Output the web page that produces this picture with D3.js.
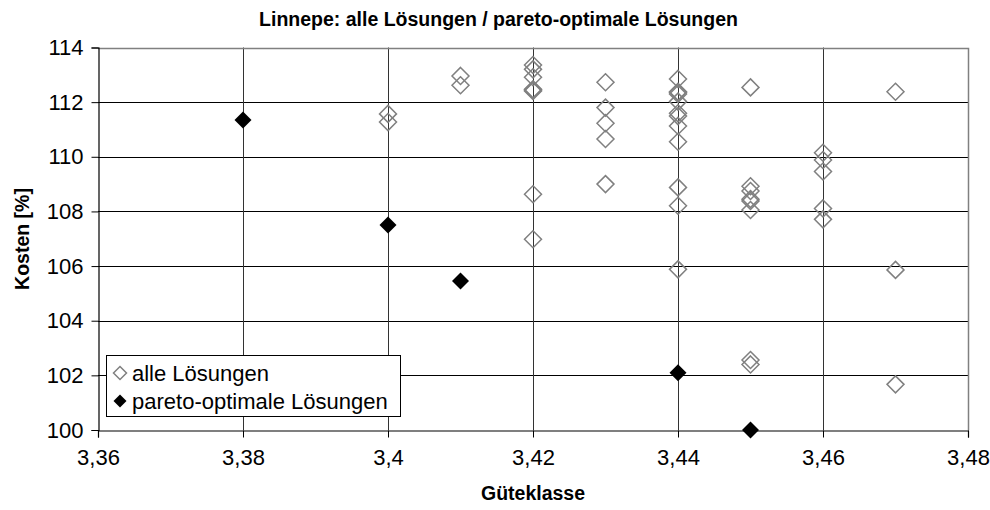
<!DOCTYPE html>
<html><head><meta charset="utf-8">
<script src="https://cdn.jsdelivr.net/npm/d3@7"></script>
<style>body{margin:0;background:#fff}text{font-family:Arial,"Liberation Sans",sans-serif}</style>
</head><body>
<svg id="c" width="990" height="510"></svg>
<script>
const titleText = "Linnepe: alle Lösungen / pareto-optimale Lösungen";
const xTitle = "Güteklasse";
const yTitle = "Kosten [%]";
const seriesNames = ["alle Lösungen", "pareto-optimale Lösungen"];
const xTicks = [3.36, 3.38, 3.40, 3.42, 3.44, 3.46, 3.48];
const yTicks = [100, 102, 104, 106, 108, 110, 112, 114];

const alleX = [3.40,3.40, 3.41,3.41,
  3.42,3.42,3.42,3.42,3.42,3.42,3.42,3.42,
  3.43,3.43,3.43,3.43,3.43,
  3.44,3.44,3.44,3.44,3.44,3.44,3.44,3.44,3.44,3.44,3.44,3.44,
  3.45,3.45,3.45,3.45,3.45,3.45,3.45,3.45,
  3.46,3.46,3.46,3.46,3.46,
  3.47,3.47,3.47];
const alleY = [111.57,111.27, 112.96,112.62,
  113.36,113.2,112.91,112.47,112.41,112.44,108.63,106.98,
  112.73,111.8,111.23,110.65,109.0,
  112.85,112.38,112.35,112.3,112.02,111.59,111.49,111.13,110.55,108.88,108.21,105.88,
  112.54,108.92,108.75,108.45,108.38,108.05,102.56,102.4,
  110.15,109.88,109.46,108.11,107.71,
  112.38,105.86,101.67];
const paretoX = [3.38, 3.40, 3.41, 3.44, 3.45];
const paretoY = [111.35, 107.5, 105.45, 102.1, 100.0];

const svg = d3.select("#c");
const L = 98, R = 968, T = 47.5, B = 430;
const x = d3.scaleLinear().domain([3.36, 3.48]).range([L, R]);
const y = d3.scaleLinear().domain([100, 114]).range([B, T]);
const fmt = d => d3.format(".2f")(d).replace(/0$/, "").replace(".", ",");

// gridlines
svg.append("g").selectAll("line").data(yTicks.slice(1)).join("line")
  .attr("x1", L).attr("x2", R).attr("y1", d => Math.round(y(d)) + 0.5).attr("y2", d => Math.round(y(d)) + 0.5)
  .attr("stroke", "#000").attr("stroke-width", 1);
svg.append("g").selectAll("line").data(xTicks.slice(1, -1)).join("line")
  .attr("y1", T).attr("y2", B).attr("x1", d => Math.round(x(d)) + 0.5).attr("x2", d => Math.round(x(d)) + 0.5)
  .attr("stroke", "#333").attr("stroke-width", 1);
// top/right border
svg.append("path").attr("d", `M${L},${Math.round(T)+0.5}H${R+0.5}V${B}`).attr("fill", "none").attr("stroke", "#808080").attr("stroke-width", 1.5);

// axes
const xAxis = d3.axisBottom(x).tickValues(xTicks).tickFormat(fmt).tickSize(7).tickPadding(12);
const yAxis = d3.axisLeft(y).tickValues(yTicks).tickFormat(d => d).tickSize(7).tickPadding(8);
const gx = svg.append("g").attr("transform", `translate(0,${B + 0.5})`).call(xAxis);
const gy = svg.append("g").attr("transform", `translate(${L + 0.5},0)`).call(yAxis);
[gx, gy].forEach(g => {
  g.select(".domain").attr("stroke", "#000").attr("stroke-width", 1.2);
  g.selectAll(".tick line").attr("stroke", "#000");
  g.selectAll("text").attr("font-size", 22).attr("fill", "#000").style("font-family", "Arial, 'Liberation Sans', sans-serif");
});
gx.selectAll("text").attr("dy", "0.71em");

const diamond = r => `M0,${-r}L${r},0L0,${r}L${-r},0Z`;

// alle
svg.append("g").selectAll("path").data(alleX.map((v, i) => [v, alleY[i]])).join("path")
  .attr("d", diamond(8.5)).attr("transform", d => `translate(${x(d[0])},${y(d[1])})`)
  .attr("fill", "none").attr("stroke", "#808080").attr("stroke-width", 1.5);
// pareto
svg.append("g").selectAll("path").data(paretoX.map((v, i) => [v, paretoY[i]])).join("path")
  .attr("d", diamond(8.5)).attr("transform", d => `translate(${x(d[0])},${y(d[1])})`)
  .attr("fill", "#000");

// titles
svg.append("text").attr("x", 498.5).attr("y", 26).attr("text-anchor", "middle")
  .attr("font-size", 19.5).attr("font-weight", "bold").text(titleText);
svg.append("text").attr("x", 533).attr("y", 500).attr("text-anchor", "middle")
  .attr("font-size", 19.5).attr("font-weight", "bold").text(xTitle);
svg.append("text").attr("transform", "translate(29,239) rotate(-90)").attr("text-anchor", "middle")
  .attr("font-size", 19.5).attr("font-weight", "bold").text(yTitle);

// legend
const lg = svg.append("g");
lg.append("rect").attr("x", 106.5).attr("y", 355.5).attr("width", 294).attr("height", 61)
  .attr("fill", "#fff").attr("stroke", "#000").attr("stroke-width", 1);
lg.append("path").attr("d", diamond(6.5)).attr("transform", "translate(120,373)")
  .attr("fill", "none").attr("stroke", "#808080").attr("stroke-width", 1.5);
lg.append("path").attr("d", diamond(6.5)).attr("transform", "translate(120,401)").attr("fill", "#000");
lg.selectAll("text").data(seriesNames).join("text")
  .attr("x", 132).attr("y", (d, i) => 381 + i * 28).attr("font-size", 22).text(d => d);
</script>
</body></html>
